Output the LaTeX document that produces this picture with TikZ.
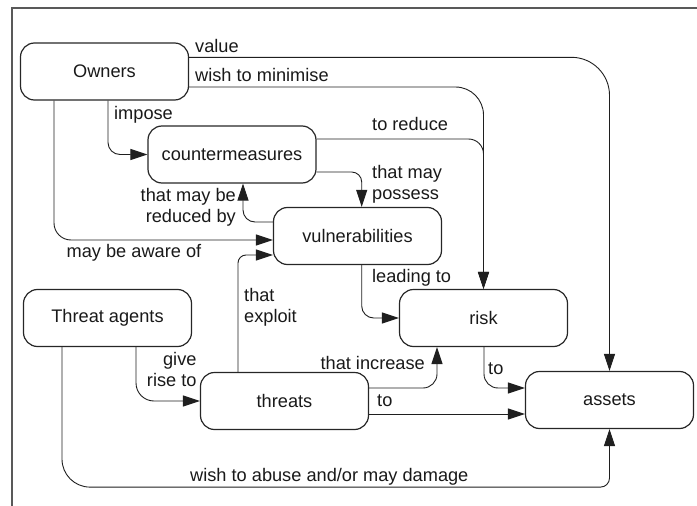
\documentclass[tikz,border=0pt]{standalone}
\usepackage{fontspec}
\setmainfont{Liberation Sans}
\usetikzlibrary{arrows.meta,calc}
\begin{document}
\begin{tikzpicture}[x=1pt,y=-1pt,
  every node/.style={font=\fontsize{18.2}{21}\selectfont, text=black!90},
  box/.style={draw=black!85, line width=1.2pt, rounded corners=14pt,
    minimum width=168pt, minimum height=57pt, inner sep=0pt},
  conn/.style={draw=black!88, line width=0.9pt, -{Triangle[length=17pt,width=11pt]}},
  lbl/.style={inner sep=0pt},
]
\useasboundingbox (0,0) rectangle (697,506);
\draw[line width=1.2pt, black!65] (12,506) -- (12,8) -- (697,8);

\node[box] (own)  at (104.5,71.5) {Owners};
\node[box] (cm)   at (232,154.5)  {countermeasures};
\node[box] (vul)  at (357.5,236)  {vulnerabilities};
\node[box] (ta)   at (107.5,318)  {Threat agents};
\node[box] (thr)  at (284.5,401)  {threats};
\node[box] (risk) at (483.5,318)  {risk};
\node[box] (ast)  at (609.5,400)  {assets};

% Owners -> assets (value)
\draw[conn, rounded corners=38pt] ([yshift=14.2pt]own.east) -| (ast.north);
\node[lbl, anchor=base west] (l1) at (195,52.3) {value};
% Owners -> risk (wish to minimise)
\draw[conn, rounded corners=28pt] ([yshift=-15.5pt]own.east) -| (risk.north);
\node[lbl, anchor=base west] (l2) at (195,81.7) {wish to minimise};
% Owners -> countermeasures (impose)
\draw[conn, rounded corners=12pt] ([xshift=3.5pt]own.south) |- (cm.west);
\node[lbl, anchor=base west] (l3) at (114,119.3) {impose};
% countermeasures -> risk (to reduce)
\draw[conn, rounded corners=15pt] ([yshift=15.5pt]cm.east) -| (risk.north);
\node[lbl, anchor=base west] (l4) at (372,130.7) {to reduce};
% countermeasures -> vulnerabilities (that may possess)
\draw[conn, rounded corners=10pt] ([yshift=-17.5pt]cm.east) -| ([xshift=4.2pt]vul.north);
\node[lbl, anchor=west, align=left] (l5) at (372,184) {that may\\possess};
% vulnerabilities -> countermeasures (that may be reduced by)
\draw[conn, rounded corners=12pt] ([yshift=14pt]vul.west) -| ([xshift=11pt]cm.south);
\node[lbl, anchor=east, align=right] (l6) at (236,207) {that may be\\reduced by};
% Owners -> vulnerabilities (may be aware of)
\draw[conn, rounded corners=17pt] ([xshift=-50.5pt]own.south) |- ([yshift=-4pt]vul.west);
\node[lbl, anchor=base west] (l7) at (66.5,257) {may be aware of};
% threats -> vulnerabilities (that exploit)
\draw[conn, rounded corners=8pt] ([xshift=-46.5pt]thr.north) |- ([yshift=-19pt]vul.west);
\node[lbl, anchor=west, align=left] (l8) at (244,307) {that\\exploit};
% vulnerabilities -> risk (leading to)
\draw[conn, rounded corners=12pt] ([xshift=4.2pt]vul.south) |- (risk.west);
\node[lbl, anchor=base west] (l9) at (372,282.3) {leading to};
% Threat agents -> threats (give rise to)
\draw[conn, rounded corners=18pt] ([xshift=28.5pt]ta.south) |- (thr.west);
\node[lbl, anchor=east, align=right] (l10) at (196.7,369) {give\\rise to};
% threats -> risk (that increase)
\draw[conn, rounded corners=14pt] ([yshift=13pt]thr.east) -| ([xshift=-46.5pt]risk.south);
\node[lbl, anchor=base east] (l11) at (425,369) {that increase};
% threats -> assets (to)
\draw[conn] ([yshift=-13pt]thr.east) coordinate (t2a) -- (t2a -| ast.west);
\node[lbl, anchor=base west] (l12) at (377,406) {to};
% risk -> assets (to)
\draw[conn, rounded corners=14pt] ([xshift=0.5pt]risk.south) |- ([yshift=12pt]ast.west);
\node[lbl, anchor=base west] (l13) at (488,374.3) {to};
% Threat agents -> assets (wish to abuse and/or may damage)
\coordinate (abA) at ([xshift=-45.5pt]ta.south);
\coordinate (abB) at ([yshift=-58pt]ast.south);
\draw[conn] (abA) [rounded corners=28pt] -- (abA |- abB)
  [rounded corners=9pt] -- (abB) -- (ast.south);
\node[lbl, anchor=base west] (l14) at (190,481.7) {wish to abuse and/or may damage};
\end{tikzpicture}
\end{document}
